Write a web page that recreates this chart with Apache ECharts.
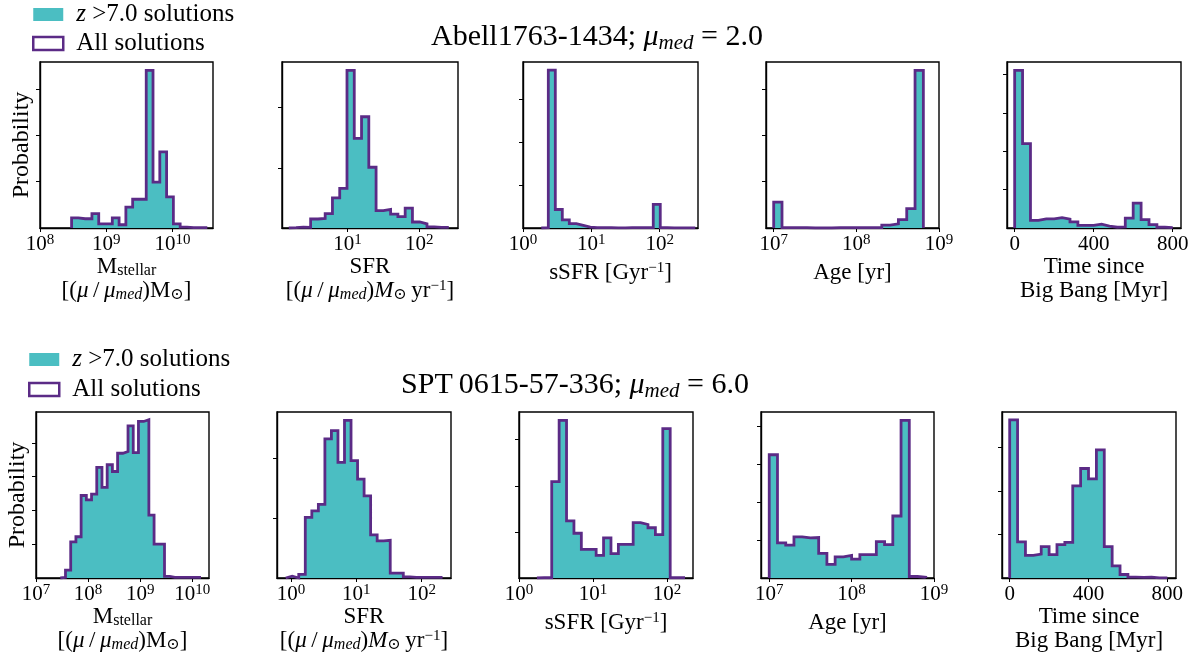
<!DOCTYPE html>
<html><head><meta charset="utf-8">
<script src="https://cdn.jsdelivr.net/npm/echarts@6/dist/echarts.min.js"></script>
<style>html,body{margin:0;padding:0;background:#fff}#c{width:1193px;height:662px}</style>
</head><body><div id="c"></div>
<script>
// ---------------- data ----------------
const legendNames = ['z >7.0 solutions', 'All solutions'];
const objectNames = ['Abell1763-1434; ', 'SPT\u20090615-57-336; '];
const muMedValues = ['2.0', '6.0'];

// bin definitions: [first edge, bin width] (log10 units, or Myr for time)
const abellMassBins = [8.477, 0.1025];
const abellMass = [0.22, 0.20, 0.20, 0.31, 0.09, 0.09, 0.22, 0.07, 0.45, 0.62, 0.62, 3.40, 0.99, 1.64, 0.67, 0.09, 0.02, 0.01, 0.01, 0.01];
const abellSfrBins = [0.183, 0.1014];
const abellSfr = [0.005, 0.015, 0.01, 0.15, 0.16, 0.24, 0.50, 0.66, 2.62, 1.49, 1.85, 1.01, 0.29, 0.31, 0.23, 0.19, 0.33, 0.10, 0.07, 0.02, 0.01, 0.01];
const abellSsfrBins = [0.268, 0.1024];
const abellSsfr = [0.01, 3.67, 0.43, 0.19, 0.10, 0.06, 0.02, 0.01, 0.01, 0.01, 0.005, 0.005, 0.01, 0.01, 0.01, 0.01, 0.55, 0.01, 0.005, 0.005, 0.005, 0.005];
const abellAgeBins = [7.0, 0.1006];
const abellAge = [0.56, 0.01, 0.01, 0.01, 0, 0, 0, 0.01, 0.01, 0.01, 0.01, 0.01, 0.01, 0.06, 0.09, 0.18, 0.42, 3.40];
const abellTimeBins = [0, 40];
const abellTime = [4.11, 2.20, 0.20, 0.24, 0.24, 0.27, 0.23, 0.16, 0.07, 0.07, 0.10, 0.05, 0.02, 0.03, 0.26, 0.65, 0.22, 0.09, 0.02, 0.01];

const sptMassBins = [7.466, 0.1];
const sptMass = [0.02, 0.23, 1.07, 1.22, 2.44, 2.31, 2.48, 3.27, 2.68, 3.35, 3.15, 3.69, 3.74, 4.50, 3.71, 4.63, 4.68, 1.86, 1.00, 1.00, 0.05, 0.02, 0.02, 0.02, 0.02, 0.02, 0.02];
const sptSfrBins = [-0.081, 0.1];
const sptSfr = [0.03, 0, 0.06, 1.01, 1.12, 1.23, 2.32, 2.46, 1.93, 2.63, 1.96, 1.65, 1.37, 0.72, 0.62, 0.63, 0.08, 0.08, 0.02, 0.01, 0.01, 0.01, 0.01, 0.01];
const sptSsfrBins = [0.242, 0.1];
const sptSsfr = [0.005, 0.005, 2.09, 3.42, 1.24, 0.97, 0.62, 0.62, 0.49, 0.87, 0.53, 0.73, 0.73, 1.20, 1.16, 1.09, 0.94, 3.24, 0.005, 0.005];
const sptAgeBins = [7.0, 0.1];
const sptAge = [3.26, 0.93, 0.87, 1.09, 1.06, 1.07, 0.65, 0.36, 0.56, 0.60, 0.50, 0.62, 0.62, 0.96, 0.88, 1.64, 4.17, 0.04, 0.02];
const sptTimeBins = [0, 40];
const sptTime = [3.64, 0.83, 0.52, 0.55, 0.72, 0.54, 0.77, 0.82, 2.12, 2.52, 2.28, 2.95, 0.72, 0.28, 0.08, 0.02, 0.015, 0.02, 0.005, 0.005];

// axis ranges and tick values
const xRanges = [[8, 10.613], [0.088, 2.542], [0, 2.561], [6.907, 9.0], [-38.8, 842],
                 [7, 10.32], [-0.214, 2.449], [0, 2.35], [6.90, 9.0], [-39, 844]];
const xTicks = [[8, 9, 10], [1, 2], [0, 1, 2], [7, 8, 9], [0, 400, 800],
                [7, 8, 9, 10], [0, 1, 2], [0, 1, 2], [7, 8, 9], [0, 400, 800]];
const yMaxes = [3.58, 2.76, 3.86, 3.58, 4.33, 4.91, 2.77, 3.60, 4.39, 3.82];
const yTicks = [[1, 2, 3], [1, 2], [1, 2, 3], [1, 2, 3], [1, 2, 3, 4],
                [1, 2, 3, 4], [1, 2], [1, 2, 3], [1, 2, 3, 4], [1, 2, 3]];

// ---------------- styling / layout ----------------
const FONT = '"Liberation Serif", "DejaVu Serif", serif';
const TEAL = '#4BBEC2';
const PURPLE = '#5B2B86';

const NAMES = {
  mass: '{n|M}{sub|stellar}\n{n|[(}{i|μ}{n|\u2009/\u2009}{i|μ}{isub|med}{n|)M}{sub|⊙}{n|]}',
  sfr: '{n|SFR}\n{n|[(}{i|μ}{n|\u2009/\u2009}{i|μ}{isub|med}{n|)}{i|M}{sub|⊙}{n|\u2009yr}{sup|−1}{n|]}',
  ssfr: '{n|sSFR [Gyr}{sup|−1}{n|]}',
  age: '{n|Age [yr]}',
  time: '{n|Time since}\n{n|Big Bang [Myr]}'
};
const nameKinds = ['mass', 'sfr', 'ssfr', 'age', 'time'];
const nameGaps = {mass: 22, sfr: 24, ssfr: 33, age: 33, time: 27};
const isLog = [true, true, true, true, false];
const colLeft = [[40, 282, 523, 766, 1007], [36, 277, 519, 761, 1002]];
const colWidth = [[173, 176, 175, 173, 174], [173, 174, 174, 173, 174]];
const rowTop = [62, 412];
const rowHeight = 166;

const binsList = [abellMassBins, abellSfrBins, abellSsfrBins, abellAgeBins, abellTimeBins,
                  sptMassBins, sptSfrBins, sptSsfrBins, sptAgeBins, sptTimeBins];
const heightsList = [abellMass, abellSfr, abellSsfr, abellAge, abellTime,
                     sptMass, sptSfr, sptSsfr, sptAge, sptTime];

const nameRich = {
  n: {fontFamily: FONT, fontSize: 23, lineHeight: 24, color: '#000'},
  i: {fontFamily: FONT, fontSize: 23, lineHeight: 24, fontStyle: 'italic', color: '#000'},
  sub: {fontFamily: FONT, fontSize: 16, lineHeight: 8, verticalAlign: 'bottom', color: '#000'},
  isub: {fontFamily: FONT, fontSize: 16, lineHeight: 8, verticalAlign: 'bottom', fontStyle: 'italic', color: '#000'},
  sup: {fontFamily: FONT, fontSize: 15, lineHeight: 10, verticalAlign: 'top', color: '#000'}
};
const tickRich = {
  b: {fontFamily: FONT, fontSize: 21, lineHeight: 22, color: '#000'},
  sup: {fontFamily: FONT, fontSize: 15, lineHeight: 10, verticalAlign: 'top', color: '#000'}
};

function stepPoints(bins, h) {
  const start = bins[0], w = bins[1];
  const pts = [[start, 0]];
  h.forEach((v, i) => { pts.push([start + i * w, v]); pts.push([start + (i + 1) * w, v]); });
  pts.push([start + h.length * w, 0]);
  return pts;
}

const grids = [], xAxes = [], yAxes = [], series = [];
for (let r = 0; r < 2; r++) {
  for (let c = 0; c < 5; c++) {
    const k = r * 5 + c;
    grids.push({left: colLeft[r][c], top: rowTop[r], width: colWidth[r][c], height: rowHeight,
      show: true, borderColor: '#000', borderWidth: 1.4, backgroundColor: 'transparent'});
    const kind = nameKinds[c];
    xAxes.push({
      gridIndex: k, type: 'value', min: xRanges[k][0], max: xRanges[k][1],
      splitLine: {show: false},
      axisLine: {show: true, onZero: false, lineStyle: {color: '#000', width: 1.4}},
      axisTick: {show: true, customValues: xTicks[k], length: 4, lineStyle: {color: '#000'}},
      axisLabel: {show: true, customValues: xTicks[k], margin: 5, rich: tickRich,
        formatter: isLog[c] ? (v => '{b|10}{sup|' + Math.round(v) + '}') : (v => '{b|' + v + '}')},
      name: NAMES[kind], nameLocation: 'middle', nameGap: nameGaps[kind],
      nameTextStyle: {fontFamily: FONT, fontSize: 23, color: '#000', rich: nameRich}
    });
    yAxes.push({
      gridIndex: k, type: 'value', min: 0, max: yMaxes[k],
      splitLine: {show: false},
      axisLine: {show: true, onZero: false, lineStyle: {color: '#000', width: 1.4}},
      axisTick: {show: true, customValues: yTicks[k], length: 4, lineStyle: {color: '#000'}},
      axisLabel: {show: false},
      name: c === 0 ? 'Probability' : '', nameLocation: 'middle', nameRotate: 90, nameGap: 6,
      nameTextStyle: {fontFamily: FONT, fontSize: 24, color: '#000'}
    });
    const pts = stepPoints(binsList[k], heightsList[k]);
    series.push({
      name: legendNames[0], type: 'line', xAxisIndex: k, yAxisIndex: k, data: pts,
      showSymbol: false, symbol: 'none', silent: true, z: 2,
      itemStyle: {color: TEAL},
      lineStyle: {width: 0, color: TEAL}, areaStyle: {color: TEAL, opacity: 1}
    });
    series.push({
      name: legendNames[1], type: 'line', xAxisIndex: k, yAxisIndex: k, data: pts,
      showSymbol: false, symbol: 'none', silent: true, z: 3,
      itemStyle: {color: PURPLE},
      lineStyle: {width: 2.8, color: PURPLE, join: 'miter'}
    });
  }
}

const legendText = {fontFamily: FONT, fontSize: 25, color: '#000',
  rich: {i: {fontFamily: FONT, fontSize: 25, fontStyle: 'italic', color: '#000', padding: [0, 0, 0, 8]},
         t: {fontFamily: FONT, fontSize: 25, color: '#000'},
         tp: {fontFamily: FONT, fontSize: 25, color: '#000', padding: [0, 0, 0, 8]}}};
const legendFmt = name => name === legendNames[0] ? '{i|z}{t| >7.0 solutions}' : '{tp|All solutions}';
const legendData = [
  {name: legendNames[0], icon: 'rect', itemStyle: {color: TEAL, borderWidth: 0}},
  {name: legendNames[1], icon: 'rect', itemStyle: {color: '#fff', borderColor: PURPLE, borderWidth: 2.5}}
];

const titleRich = {
  t: {fontFamily: FONT, fontSize: 30, lineHeight: 34, fill: '#000'},
  i: {fontFamily: FONT, fontSize: 30, lineHeight: 34, fontStyle: 'italic', fill: '#000'},
  isub: {fontFamily: FONT, fontSize: 21, lineHeight: 12, verticalAlign: 'bottom', fontStyle: 'italic', fill: '#000'}
};

const option = {
  animation: false,
  backgroundColor: '#fff',
  grid: grids, xAxis: xAxes, yAxis: yAxes, series: series,
  legend: [
    {left: 32, top: 2, padding: 0, orient: 'vertical', itemWidth: 30, itemHeight: 13, itemGap: 4,
     selectedMode: false, data: legendData, textStyle: legendText, formatter: legendFmt},
    {left: 28, top: 347, padding: 0, orient: 'vertical', itemWidth: 30, itemHeight: 13, itemGap: 5,
     selectedMode: false, data: legendData, textStyle: legendText, formatter: legendFmt}
  ],
  graphic: [
    {type: 'text', x: 597, y: 37, style: {text: '{t|' + objectNames[0] + '}{i|μ}{isub|med}{t| = ' + muMedValues[0] + '}', rich: titleRich, align: 'center', verticalAlign: 'middle'}},
    {type: 'text', x: 575, y: 385, style: {text: '{t|' + objectNames[1] + '}{i|μ}{isub|med}{t| = ' + muMedValues[1] + '}', rich: titleRich, align: 'center', verticalAlign: 'middle'}}
  ]
};

const chart = echarts.init(document.getElementById('c'), null, {renderer: 'canvas'});
chart.setOption(option);
</script>
</body></html>
